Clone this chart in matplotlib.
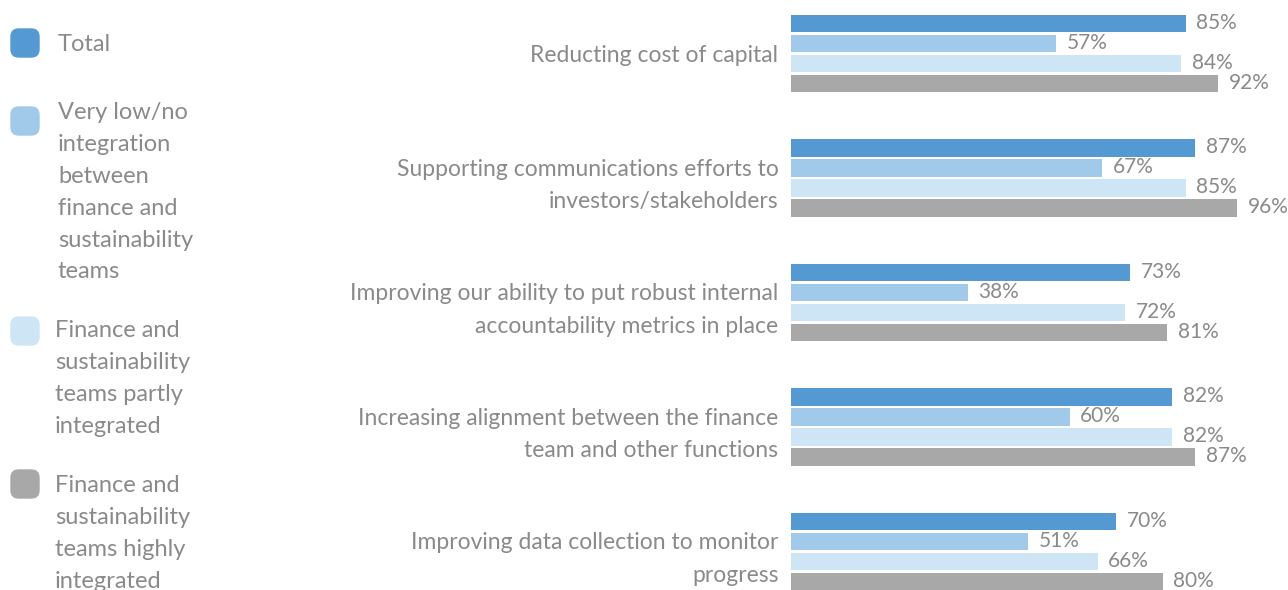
import numpy as np
import matplotlib.pyplot as plt
from matplotlib.patches import FancyBboxPatch

plt.rcParams['font.family'] = ['Lato', 'DejaVu Sans']

# categories (top to bottom)
categories = ['Reducting cost of capital',
              'Supporting communications efforts to\ninvestors/stakeholders',
              'Improving our ability to put robust internal\naccountability metrics in place',
              'Increasing alignment between the finance\nteam and other functions',
              'Improving data collection to monitor\nprogress']

series = ['Total',
          'Very low/no\nintegration\nbetween\nfinance and\nsustainability\nteams',
          'Finance and\nsustainability\nteams partly\nintegrated',
          'Finance and\nsustainability\nteams highly\nintegrated']

total = [85, 87, 73, 82, 70]
very_low = [57, 67, 38, 60, 51]
partly = [84, 85, 72, 82, 66]
highly = [92, 96, 81, 87, 80]

colors = ['#5499d1', '#a1caea', '#cee5f5', '#a8a8a8']
grey = '#8a8a8a'

fig = plt.figure(figsize=(12.88, 5.9), dpi=100)
ax = fig.add_axes([791/1288, 0, 497/1288, 1])

y = np.arange(len(categories))
pitch = 0.161
h = 0.142
offsets = np.array([-1.5, -0.5, 0.5, 1.5]) * pitch
for vals, off, c in zip([total, very_low, partly, highly], offsets, colors):
    ax.barh(y + off, vals, height=h, color=c)
    for yi, v in zip(y, vals):
        ax.text(v + 2.3, yi + off - 0.005, f'{v}%', va='center', ha='left',
                fontsize=15, color=grey)

ax.set_xlim(0, 107)
ax.set_ylim(4.31, -0.43)
ax.set_yticks(y)
ax.set_yticklabels(categories, fontsize=16.5, color=grey)
for lab in ax.get_yticklabels():
    lab.set_linespacing(1.66)
ax.tick_params(axis='y', length=0, pad=9)
ax.set_xticks([])
for s in ax.spines.values():
    s.set_visible(False)

# legend on the left (pixel positions from top)
box_y = [43, 121, 331, 484]
text_y = [43, 111, 329, 484]
text_x = [58, 58, 55, 55]
for lab, c, by, ty, tx in zip(series, colors, box_y, text_y, text_x):
    box = FancyBboxPatch((11/1288, (590 - by - 14)/590), 28/1288, 28/590,
                         boxstyle='round,pad=0,rounding_size=0.006',
                         transform=fig.transFigure, color=c, mutation_aspect=1288/590)
    fig.patches.append(box)
    fig.text(tx/1288, (590 - ty + 9)/590, lab, fontsize=17, color=grey,
             va='top', ha='left', linespacing=1.64,
             transform=fig.transFigure)

fig.savefig('out.png', dpi=100)
